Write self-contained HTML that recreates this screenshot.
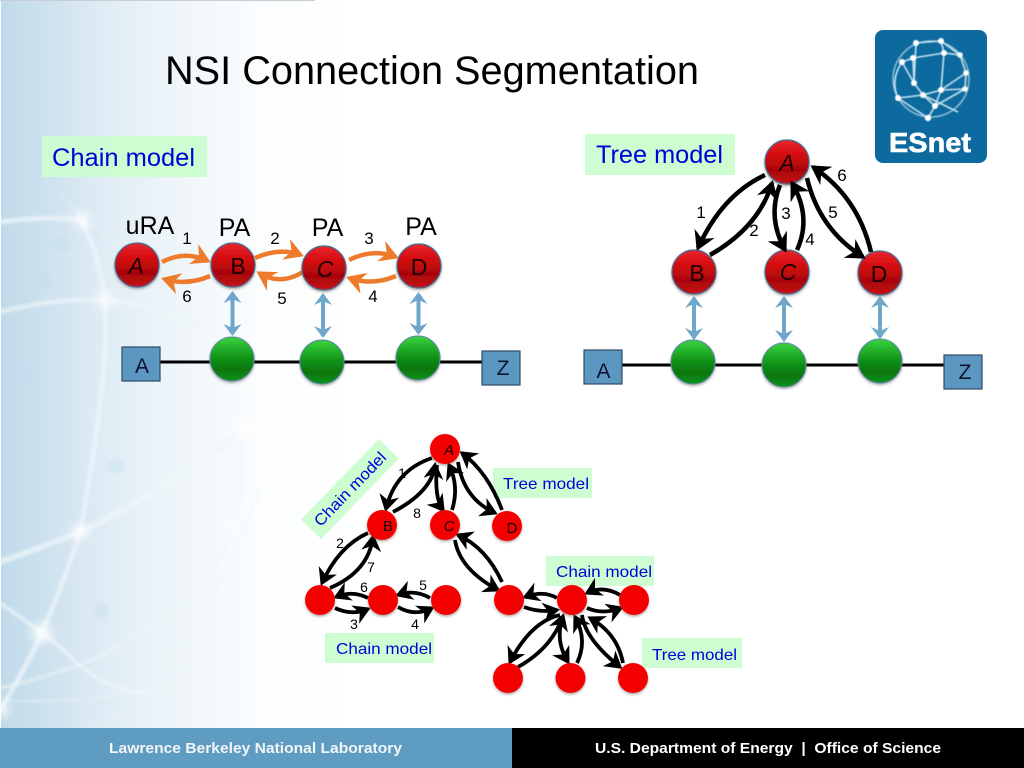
<!DOCTYPE html>
<html><head><meta charset="utf-8"><style>
html,body{margin:0;padding:0;background:#fff}
svg{display:block}
text{font-family:"Liberation Sans",sans-serif}
</style></head><body>
<svg width="1024" height="768" viewBox="0 0 1024 768" xmlns="http://www.w3.org/2000/svg">
<defs>
<linearGradient id="bg" x1="0" y1="0" x2="1" y2="0"><stop offset="0" stop-color="#c0daea"/><stop offset=".15" stop-color="#d0e3ef"/><stop offset=".3" stop-color="#e1edf5"/><stop offset=".5" stop-color="#eff6fa"/><stop offset=".72" stop-color="#fbfdfe"/><stop offset="1" stop-color="#fff"/></linearGradient>
<linearGradient id="red" x1="0" y1="0" x2="0" y2="1"><stop offset="0" stop-color="#e8272b"/><stop offset=".35" stop-color="#d40b10"/><stop offset=".7" stop-color="#a80508"/><stop offset="1" stop-color="#c81418"/></linearGradient>
<linearGradient id="grn" x1="0" y1="0" x2="0" y2="1"><stop offset="0" stop-color="#3ad43f"/><stop offset=".5" stop-color="#0e8f16"/><stop offset=".75" stop-color="#08760e"/><stop offset="1" stop-color="#12931a"/></linearGradient>
<filter id="b2" x="-20%" y="-20%" width="140%" height="140%"><feGaussianBlur stdDeviation="1.4"/></filter>
<filter id="b1" x="-10%" y="-10%" width="120%" height="120%"><feGaussianBlur stdDeviation=".5"/></filter>
<filter id="b6" x="-100%" y="-100%" width="300%" height="300%"><feGaussianBlur stdDeviation="5"/></filter>
<filter id="sh" x="-30%" y="-30%" width="160%" height="160%"><feDropShadow dx="0" dy="1.5" stdDeviation="1.2" flood-color="#555" flood-opacity=".5"/></filter>
<marker id="mo" markerUnits="userSpaceOnUse" markerWidth="30" markerHeight="30" viewBox="-24 -15 30 30" refX="0" refY="0" orient="auto" overflow="visible"><path d="M3 0L-16 -11L-10 0L-16 11Z" fill="#ee7b2b"/></marker>
<marker id="mb" markerUnits="userSpaceOnUse" markerWidth="30" markerHeight="30" viewBox="-24 -15 30 30" refX="0" refY="0" orient="auto" overflow="visible"><path d="M3 0L-16 -11L-10 0L-16 11Z" fill="#000"/></marker>
<marker id="ms" markerUnits="userSpaceOnUse" markerWidth="28" markerHeight="28" viewBox="-22 -14 28 28" refX="0" refY="0" orient="auto" overflow="visible"><path d="M3 0L-14 -10L-9 0L-14 10Z" fill="#000"/></marker>
<marker id="mu" markerUnits="userSpaceOnUse" markerWidth="24" markerHeight="24" viewBox="-18 -12 24 24" refX="0" refY="0" orient="auto-start-reverse" overflow="visible"><path d="M2 0L-10 -9L-6 0L-10 9Z" fill="#6fa6cb"/></marker>
</defs>

<rect width="1024" height="768" fill="#fff"/>
<rect x="1" y="1" width="360" height="728" fill="url(#bg)"/>
<rect x="0" y="0" width="315" height="1" fill="#c8cfd4"/>

<!-- background globe -->
<g fill="none" stroke="#eef6fa" stroke-linecap="round" filter="url(#b2)">
<path d="M0 222Q45 216 82 220Q100 260 105 300Q108 350 98 420Q90 480 80 532Q65 580 42 633Q22 675 1 708" stroke-width="5" opacity=".75"/>
<path d="M0 312Q55 298 105 300Q160 304 215 335" stroke-width="5" opacity=".65"/>
<path d="M0 562Q40 548 80 532Q170 490 242 430" stroke-width="6" opacity=".7"/>
<path d="M242 430Q246 480 233 530Q205 600 150 625Q100 660 70 668Q30 682 0 688" stroke-width="3.5" opacity=".55"/>
<path d="M0 603Q22 618 42 633Q60 645 77 663Q105 688 140 692Q160 692 170 688" stroke-width="4" opacity=".7"/>
<path d="M5 700Q60 705 140 692Q190 650 217 587Q235 550 260 490" stroke-width="2" opacity=".5"/>
<path d="M90 727Q150 700 190 665Q225 640 240 615" stroke-width="1.5" opacity=".45"/>
<path d="M60 195Q75 205 82 220Q130 250 165 290" stroke-width="2" opacity=".4"/>
</g>
<g fill="#fff" filter="url(#b6)" opacity=".85">
<circle cx="82" cy="220" r="8"/><circle cx="105" cy="300" r="8"/><circle cx="80" cy="532" r="8"/><circle cx="42" cy="633" r="10"/><circle cx="242" cy="430" r="9"/><circle cx="233" cy="527" r="6"/><circle cx="3" cy="710" r="7"/>
</g>
<g fill="#bfe0ea" opacity=".35" filter="url(#b2)">
<circle cx="62" cy="245" r="8"/><circle cx="42" cy="283" r="8"/><circle cx="29" cy="373" r="8"/><circle cx="116" cy="466" r="8"/><circle cx="101" cy="611" r="8"/>
</g>

<!-- title -->
<text x="165" y="84" font-size="40" fill="#000" textLength="534" lengthAdjust="spacingAndGlyphs">NSI Connection Segmentation</text>

<!-- logo -->
<rect x="875" y="30" width="112" height="133" rx="8" fill="#0d6a9e"/>
<g filter="url(#b1)">
<g fill="none" stroke="#c4e2ee" stroke-width="1.6">
<circle cx="931" cy="79" r="38" opacity=".7"/>
<path d="M916 43L914 83L923 95L935 106L928 118M941 41L944 53L941 90L935 106M902 62L913 58L944 53L960 55L966 73L965 89M902 62L914 83M898 98L923 95L941 90L965 89M916 43L941 41L960 55M898 98L928 118L935 106L965 89M902 62Q890 80 898 98M941 90L966 73M923 95L958 112M913 58L914 83"/>
</g>
<g fill="#fff">
<circle cx="916" cy="43" r="3"/><circle cx="941" cy="41" r="3"/><circle cx="944" cy="53" r="3"/><circle cx="960" cy="55" r="2.800"/><circle cx="966" cy="73" r="2.800"/><circle cx="965" cy="89" r="2.800"/><circle cx="941" cy="90" r="3"/><circle cx="923" cy="95" r="3"/><circle cx="914" cy="83" r="3"/><circle cx="902" cy="62" r="3"/><circle cx="913" cy="58" r="3"/><circle cx="898" cy="98" r="3"/><circle cx="935" cy="106" r="3"/><circle cx="928" cy="118" r="3.200"/>
</g>
</g>
<text x="889" y="152" font-size="28" font-weight="bold" fill="#fff" stroke="#fff" stroke-width=".6" textLength="82" lengthAdjust="spacingAndGlyphs">ESnet</text>

<!-- label boxes -->
<g fill="#ccfdd0" opacity=".95">
<rect x="42" y="136" width="165" height="41"/>
<rect x="585" y="134" width="150" height="41"/>
<rect x="493" y="468" width="99" height="30"/>
<rect x="325" y="633" width="109" height="30"/>
<rect x="546" y="556" width="108" height="30"/>
<rect x="642" y="638" width="100" height="30"/>
<rect x="294" y="475" width="112" height="28" transform="rotate(-46 350 489)"/>
</g>
<g fill="#0000d8">
<text x="52" y="166" font-size="25" textLength="143" lengthAdjust="spacingAndGlyphs">Chain model</text>
<text x="596" y="163" font-size="25" textLength="127" lengthAdjust="spacingAndGlyphs">Tree model</text>
<text x="503" y="489" font-size="16" textLength="86" lengthAdjust="spacingAndGlyphs">Tree model</text>
<text x="336" y="654" font-size="16" textLength="96" lengthAdjust="spacingAndGlyphs">Chain model</text>
<text x="556" y="577" font-size="16" textLength="96" lengthAdjust="spacingAndGlyphs">Chain model</text>
<text x="652" y="660" font-size="16" textLength="85" lengthAdjust="spacingAndGlyphs">Tree model</text>
<text x="302" y="494.500" font-size="16" textLength="96" lengthAdjust="spacingAndGlyphs" transform="rotate(-46 350 489)">Chain model</text>
</g>

<!-- bus lines -->
<path d="M160 362H482M622 365H944" stroke="#000" stroke-width="3" fill="none"/>
<g fill="#5b97c0" stroke="#2d4a66" stroke-width="1.2">
<rect x="122" y="347" width="38" height="34"/><rect x="482" y="351" width="38" height="34"/>
<rect x="584" y="350" width="38" height="34"/><rect x="944" y="355" width="38" height="34"/>
</g>
<g font-size="21" fill="#0c1430" text-anchor="middle">
<text x="142" y="373">A</text><text x="503" y="375">Z</text><text x="603.500" y="378">A</text><text x="965" y="379">Z</text>
</g>

<!-- blue arrows -->
<g stroke="#6fa6cb" stroke-width="4" fill="none">
<path d="M232.500 293V334" marker-start="url(#mu)" marker-end="url(#mu)"/>
<path d="M323 295V336" marker-start="url(#mu)" marker-end="url(#mu)"/>
<path d="M418.500 294V333" marker-start="url(#mu)" marker-end="url(#mu)"/>
<path d="M694 298V338" marker-start="url(#mu)" marker-end="url(#mu)"/>
<path d="M784 298V340" marker-start="url(#mu)" marker-end="url(#mu)"/>
<path d="M880 298V337" marker-start="url(#mu)" marker-end="url(#mu)"/>
</g>

<!-- orange arrows -->
<g fill="none" stroke="#ee7b2b" stroke-width="4.500">
<path d="M162 262Q185 250 208 261" marker-end="url(#mo)"/>
<path d="M210 276Q187 286 164 279" marker-end="url(#mo)"/>
<path d="M255 258Q280 247 301 255" marker-end="url(#mo)"/>
<path d="M303 272Q280 286 259 273" marker-end="url(#mo)"/>
<path d="M349 260Q373 248 396 257" marker-end="url(#mo)"/>
<path d="M396 276Q372 286 349 278" marker-end="url(#mo)"/>
</g>

<!-- large nodes -->
<g stroke="#4a6a94" stroke-width="1.2" fill="url(#red)" filter="url(#sh)">
<circle cx="137" cy="265" r="22"/><circle cx="233" cy="265" r="22"/><circle cx="324" cy="268" r="22"/><circle cx="419" cy="266" r="22"/>
<circle cx="787" cy="162" r="22"/><circle cx="694" cy="272" r="22"/><circle cx="787" cy="272" r="22"/><circle cx="880" cy="273" r="22"/>
</g>
<g stroke="#5a88a8" stroke-width="1" fill="url(#grn)" filter="url(#sh)">
<circle cx="232" cy="359" r="22"/><circle cx="322" cy="362" r="22"/><circle cx="418" cy="358" r="22"/>
<circle cx="693" cy="362" r="22"/><circle cx="784" cy="365" r="22"/><circle cx="880" cy="361" r="22"/>
</g>
<g font-size="23" fill="#1a0000" text-anchor="middle">
<text x="136" y="274" font-style="italic">A</text><text x="238" y="274">B</text><text x="325" y="277" font-style="italic">C</text><text x="419" y="275">D</text>
<text x="787" y="171" font-style="italic">A</text><text x="697" y="281">B</text><text x="788" y="280" font-style="italic">C</text><text x="879" y="282">D</text>
</g>

<!-- top labels -->
<g font-size="25" fill="#000" text-anchor="middle">
<text x="150" y="234">uRA</text><text x="234.500" y="236">PA</text><text x="327.500" y="236">PA</text><text x="421" y="235">PA</text>
</g>
<g font-size="17" fill="#000" text-anchor="middle">
<text x="187" y="244">1</text><text x="275" y="244">2</text><text x="369" y="244">3</text><text x="187" y="302">6</text><text x="282" y="304">5</text><text x="373" y="302">4</text>
<text x="701" y="218">1</text><text x="754" y="236">2</text><text x="786" y="219">3</text><text x="810" y="245">4</text><text x="833" y="218">5</text><text x="842" y="181">6</text>
</g>

<!-- tree arrows -->
<g fill="none" stroke="#000" stroke-width="4.500">
<path d="M765 175Q722 195 698 248" marker-end="url(#mb)"/>
<path d="M710 255Q759 227 772 183" marker-end="url(#mb)"/>
<path d="M780 185Q767 217 785 250" marker-end="url(#mb)"/>
<path d="M797 250Q812 217 792 183" marker-end="url(#mb)"/>
<path d="M807 178Q819 229 863 257" marker-end="url(#mb)"/>
<path d="M871 252Q858 197 813 167" marker-end="url(#mb)"/>
</g>

<!-- lower arrows -->
<g fill="none" stroke="#000" stroke-width="3.800">
<path d="M432 458Q395 470.500 386 509" marker-end="url(#ms)"/>
<path d="M393 512Q432 491.500 435 465" marker-end="url(#ms)"/>
<path d="M437 465Q434 498 443 510" marker-end="url(#ms)"/>
<path d="M452 510Q459.500 486.500 449 465" marker-end="url(#ms)"/>
<path d="M458 462Q463.500 498.500 495 513" marker-end="url(#ms)"/>
<path d="M502 510Q488 472.500 462 453" marker-end="url(#ms)"/>
<path d="M368 533Q339 546 322 583" marker-end="url(#ms)"/>
<path d="M330 588Q368.500 571.500 373 537" marker-end="url(#ms)"/>
<path d="M368 598Q352 590 336 597" marker-end="url(#ms)"/>
<path d="M335 608Q352 616 368 609" marker-end="url(#ms)"/>
<path d="M430 598Q415 589 398 595" marker-end="url(#ms)"/>
<path d="M398 607Q415 617 432 608" marker-end="url(#ms)"/>
<path d="M455 540Q459.500 569 498 590" marker-end="url(#ms)"/>
<path d="M502 582Q486 547.500 458 535" marker-end="url(#ms)"/>
<path d="M557 598Q543 590 525 597" marker-end="url(#ms)"/>
<path d="M524 607Q540 613 557 610" marker-end="url(#ms)"/>
<path d="M620 595Q603 585 587 593" marker-end="url(#ms)"/>
<path d="M587 608Q603 615 621 608" marker-end="url(#ms)"/>
<path d="M560 615Q531 621.500 510 662" marker-end="url(#ms)"/>
<path d="M518 667Q552 648 563 616" marker-end="url(#ms)"/>
<path d="M563 617Q554.500 640 568 662" marker-end="url(#ms)"/>
<path d="M577 663Q588 640 575 617" marker-end="url(#ms)"/>
<path d="M582 615Q585 639 620 667" marker-end="url(#ms)"/>
<path d="M623 663Q617.500 633.500 590 618" marker-end="url(#ms)"/>
</g>

<!-- small nodes -->
<g fill="#f40505" filter="url(#sh)">
<circle cx="445" cy="449" r="15"/><circle cx="382" cy="525" r="15"/><circle cx="445" cy="525" r="15"/><circle cx="507" cy="526" r="15"/>
<circle cx="320" cy="600" r="15"/><circle cx="383" cy="600" r="15"/><circle cx="446" cy="600" r="15"/>
<circle cx="509" cy="600" r="15"/><circle cx="572" cy="600" r="15"/><circle cx="634" cy="600" r="15"/>
<circle cx="508" cy="678" r="15"/><circle cx="570.500" cy="678" r="15"/><circle cx="633" cy="678" r="15"/>
</g>
<g font-size="15" fill="#1a0000" text-anchor="middle">
<text x="449" y="455" font-style="italic">A</text><text x="388" y="531">B</text><text x="449" y="531" font-style="italic">C</text><text x="512" y="533">D</text>
</g>
<g font-size="14" fill="#000" text-anchor="middle">
<text x="402" y="478">1</text><text x="417" y="518">8</text><text x="340" y="548">2</text><text x="371" y="572">7</text><text x="364" y="592">6</text><text x="423" y="590">5</text><text x="354" y="629">3</text><text x="415" y="629">4</text>
</g>

<!-- footer -->
<rect x="0" y="728" width="512" height="40" fill="#5f9cc2"/>
<rect x="512" y="728" width="512" height="40" fill="#000"/>
<text x="109" y="753" font-size="15" font-weight="bold" fill="#f2f6f9" textLength="293" lengthAdjust="spacingAndGlyphs">Lawrence Berkeley National Laboratory</text>
<text x="595" y="753" font-size="15" font-weight="bold" fill="#fff" textLength="346" lengthAdjust="spacingAndGlyphs">U.S. Department of Energy &#160;|&#160; Office of Science</text>
</svg>
</body></html>
